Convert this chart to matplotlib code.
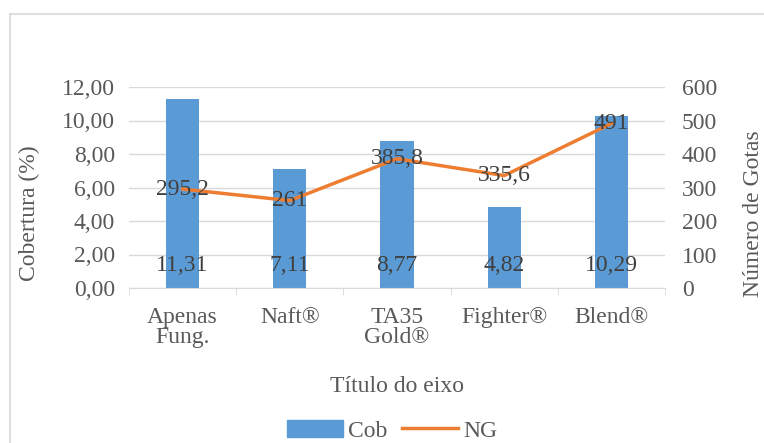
import matplotlib.pyplot as plt
import numpy as np
from matplotlib.lines import Line2D
from matplotlib.patches import Patch

plt.rcParams['font.family'] = ['Liberation Serif', 'DejaVu Serif']

# dados
categorias = ['Apenas\nFung.', 'Naft®', 'TA35\nGold®', 'Fighter®', 'Blend®']
cobertura = [11.31, 7.11, 8.77, 4.82, 10.29]
gotas = [295.2, 261, 385.8, 335.6, 491]
rot_cob = ['11,31', '7,11', '8,77', '4,82', '10,29']
rot_ng = ['295,2', '261', '385,8', '335,6', '491']

azul = '#5B9BD5'
laranja = '#ED7D31'
cinza = '#595959'
escuro = '#404040'
fs = 17

fig = plt.figure(figsize=(7.64, 4.43), dpi=100)
W, H = 764, 443
ax = fig.add_axes([129 / W, 1 - 288 / H, 536 / W, 201 / H])
ax2 = ax.twinx()

x = np.arange(len(categorias))
ax.bar(x, cobertura, width=0.31, color=azul, zorder=2)
ax.set_xlim(-0.5, len(categorias) - 0.5)
ax.set_ylim(0, 12)
ax.set_yticks(np.arange(0, 13, 2))
ax.set_yticklabels([f'{v:.2f}'.replace('.', ',') for v in np.arange(0, 13, 2)])
ax.yaxis.grid(True, color='#D9D9D9', lw=1, zorder=0)
ax.set_axisbelow(True)

ax2.plot(x, gotas, color=laranja, lw=2.5, zorder=3)
ax2.set_ylim(0, 600)
ax2.set_yticks(np.arange(0, 601, 100))

for a in (ax, ax2):
    for s in a.spines.values():
        s.set_visible(False)
    a.tick_params(axis='y', length=0, labelsize=fs, colors=cinza, pad=10)
ax2.tick_params(axis='y', pad=12)
ax.spines['bottom'].set_visible(True)
ax.spines['bottom'].set_color('#D9D9D9')

ax.set_xticks(np.arange(-0.5, len(categorias), 1), minor=True)
ax.set_xticks(x)
ax.set_xticklabels(categorias, linespacing=0.9)
ax.tick_params(axis='x', which='major', length=0, labelsize=fs, colors=cinza, pad=14)
ax.tick_params(axis='x', which='minor', length=5, color='#D9D9D9')

ax.set_ylabel('Cobertura (%)', fontsize=fs, color=cinza, va='center')
ax.yaxis.set_label_coords(-0.185, 0.37)
ax2.set_ylabel('Número de Gotas', fontsize=fs, color=cinza, rotation=90, va='center')
ax2.yaxis.set_label_coords(1.166, 0.37)
ax.set_xlabel('Título do eixo', fontsize=fs, color=cinza, labelpad=20)

for i in range(len(categorias)):
    ax.text(x[i], 1.35, rot_cob[i], ha='center', va='center', fontsize=fs,
            color=escuro, zorder=4)
    ax2.text(x[i], gotas[i], rot_ng[i], ha='center', va='center', fontsize=fs,
             color=escuro, zorder=4)

handles = [Patch(color=azul), Line2D([], [], color=laranja, lw=2.5)]
fig.legend(handles, ['Cob', 'NG'], loc='center', bbox_to_anchor=(392 / W, 1 - 431 / H),
           ncol=2, frameon=False, fontsize=fs, handlelength=2.4, columnspacing=0.6,
           handletextpad=0.2, labelcolor=cinza)

# borda do gráfico
fig.add_artist(Line2D([10 / W, 10 / W], [0, 1 - 14 / H], transform=fig.transFigure,
                      color='#D9D9D9', lw=1.2))
fig.add_artist(Line2D([10 / W, 1], [1 - 14 / H, 1 - 14 / H], transform=fig.transFigure,
                      color='#D9D9D9', lw=1.2))

fig.savefig('out.png', dpi=100)
